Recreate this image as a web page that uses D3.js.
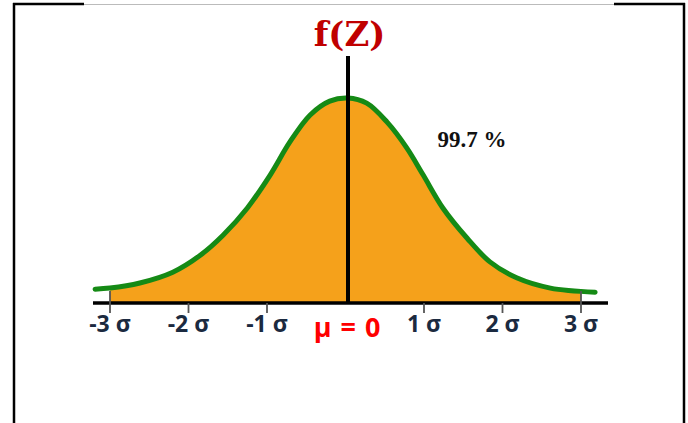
<!DOCTYPE html>
<html>
<head>
<meta charset="utf-8">
<script src="https://cdn.jsdelivr.net/npm/d3@7"></script>
<style>
  html, body { margin: 0; padding: 0; background: #fff; }
  svg { display: block; }
</style>
</head>
<body>
<svg id="chart" width="688" height="423"></svg>
<script>
// Standard normal curve f(Z), sampled points (z, density)
const curveZ = [-3.19, -3.0, -2.62, -2.20, -1.85, -1.56, -1.25, -0.96, -0.71, -0.45, -0.20, 0.03,
                 0.27, 0.53, 0.78, 0.99, 1.24, 1.55, 1.84, 2.18, 2.61, 3.18];
const curveF = [0.027, 0.029, 0.039, 0.060, 0.093, 0.132, 0.185, 0.249, 0.313, 0.366, 0.393, 0.399,
                0.389, 0.352, 0.302, 0.249, 0.185, 0.126, 0.080, 0.049, 0.029, 0.021];

// Axis ticks (in units of sigma) and their labels
const tickValues = [-3, -2, -1, 1, 2, 3];
const tickLabels = ["-3 σ", "-2 σ", "-1 σ", "1 σ", "2 σ", "3 σ"];

// Shaded range and annotations
const shadeRange = [-3, 3];
const meanValue = 0;
const meanLabel = "μ = 0";
const axisTitle = "f(Z)";
const areaLabel = "99.7 %";

const svg = d3.select("#chart");

const x = d3.scaleLinear().domain([-3, 3]).range([110, 581]);
const y = d3.scaleLinear().domain([0, 0.4]).range([303, 97.5]);

const pts = curveZ.map((z, i) => ({ z, f: curveF[i] }));

// Frame
const frame = svg.append("g");
frame.append("line").attr("x1", 14).attr("x2", 14).attr("y1", 3).attr("y2", 423)
  .attr("stroke", "#000").attr("stroke-width", 2.5);
frame.append("line").attr("x1", 684).attr("x2", 684).attr("y1", 3).attr("y2", 423)
  .attr("stroke", "#000").attr("stroke-width", 2.5);
frame.append("line").attr("x1", 14).attr("x2", 684).attr("y1", 4.5).attr("y2", 4.5)
  .attr("stroke", "#bbb").attr("stroke-width", 1);
frame.append("line").attr("x1", 13).attr("x2", 84).attr("y1", 4).attr("y2", 4)
  .attr("stroke", "#000").attr("stroke-width", 2.5);
frame.append("line").attr("x1", 614).attr("x2", 685).attr("y1", 4).attr("y2", 4)
  .attr("stroke", "#000").attr("stroke-width", 2.5);

// Shaded area between -3σ and 3σ
svg.append("clipPath").attr("id", "shade")
  .append("rect")
  .attr("x", x(shadeRange[0])).attr("y", 0)
  .attr("width", x(shadeRange[1]) - x(shadeRange[0])).attr("height", 423);

const area = d3.area()
  .x(d => x(d.z)).y0(y(0)).y1(d => y(d.f))
  .curve(d3.curveCatmullRom.alpha(0.5));

svg.append("path")
  .datum(pts)
  .attr("clip-path", "url(#shade)")
  .attr("d", area)
  .attr("fill", "#f5a11b");

// Density curve
const line = d3.line().x(d => x(d.z)).y(d => y(d.f)).curve(d3.curveCatmullRom.alpha(0.5));
svg.append("path")
  .datum(pts)
  .attr("d", line)
  .attr("fill", "none")
  .attr("stroke", "#158a15")
  .attr("stroke-width", 5)
  .attr("stroke-linecap", "round");

// Horizontal axis
svg.append("line")
  .attr("x1", 93).attr("x2", 608)
  .attr("y1", y(0)).attr("y2", y(0))
  .attr("stroke", "#000").attr("stroke-width", 3.5);

const ticks = svg.append("g");
ticks.selectAll("line").data(tickValues).join("line")
  .attr("x1", d => x(d)).attr("x2", d => x(d))
  .attr("y1", d => Math.abs(d) === 3 ? y(0) - 12 : y(0))
  .attr("y2", y(0) + 10)
  .attr("stroke", "#555").attr("stroke-width", 1.8);

ticks.selectAll("text").data(tickValues).join("text")
  .attr("x", d => x(d)).attr("y", 332)
  .attr("text-anchor", "middle")
  .attr("font-family", "'Open Sans', sans-serif")
  .attr("font-weight", 700)
  .attr("font-size", 23)
  .attr("fill", "#1b2a40")
  .text((d, i) => tickLabels[i]);

// Vertical axis at the mean
svg.append("line")
  .attr("x1", x(meanValue) + 2.5).attr("x2", x(meanValue) + 2.5)
  .attr("y1", 56).attr("y2", y(0))
  .attr("stroke", "#000").attr("stroke-width", 4);

svg.append("text")
  .attr("x", x(meanValue) + 1.5).attr("y", 337)
  .attr("text-anchor", "middle")
  .attr("font-family", "'Open Sans', sans-serif")
  .attr("font-weight", 700)
  .attr("font-size", 27)
  .attr("word-spacing", 2)
  .attr("fill", "#ff0000")
  .text(meanLabel);

svg.append("text")
  .attr("x", x(meanValue) + 4).attr("y", 46)
  .attr("text-anchor", "middle")
  .attr("font-family", "'DejaVu Serif', serif")
  .attr("font-weight", 700)
  .attr("font-size", 34)
  .attr("fill", "#c00000")
  .text(axisTitle);

svg.append("text")
  .attr("x", 472).attr("y", 147)
  .attr("text-anchor", "middle")
  .attr("font-family", "'Liberation Serif', 'Times New Roman', serif")
  .attr("font-weight", 700)
  .attr("font-size", 23)
  .attr("fill", "#111")
  .text(areaLabel);
</script>
</body>
</html>
